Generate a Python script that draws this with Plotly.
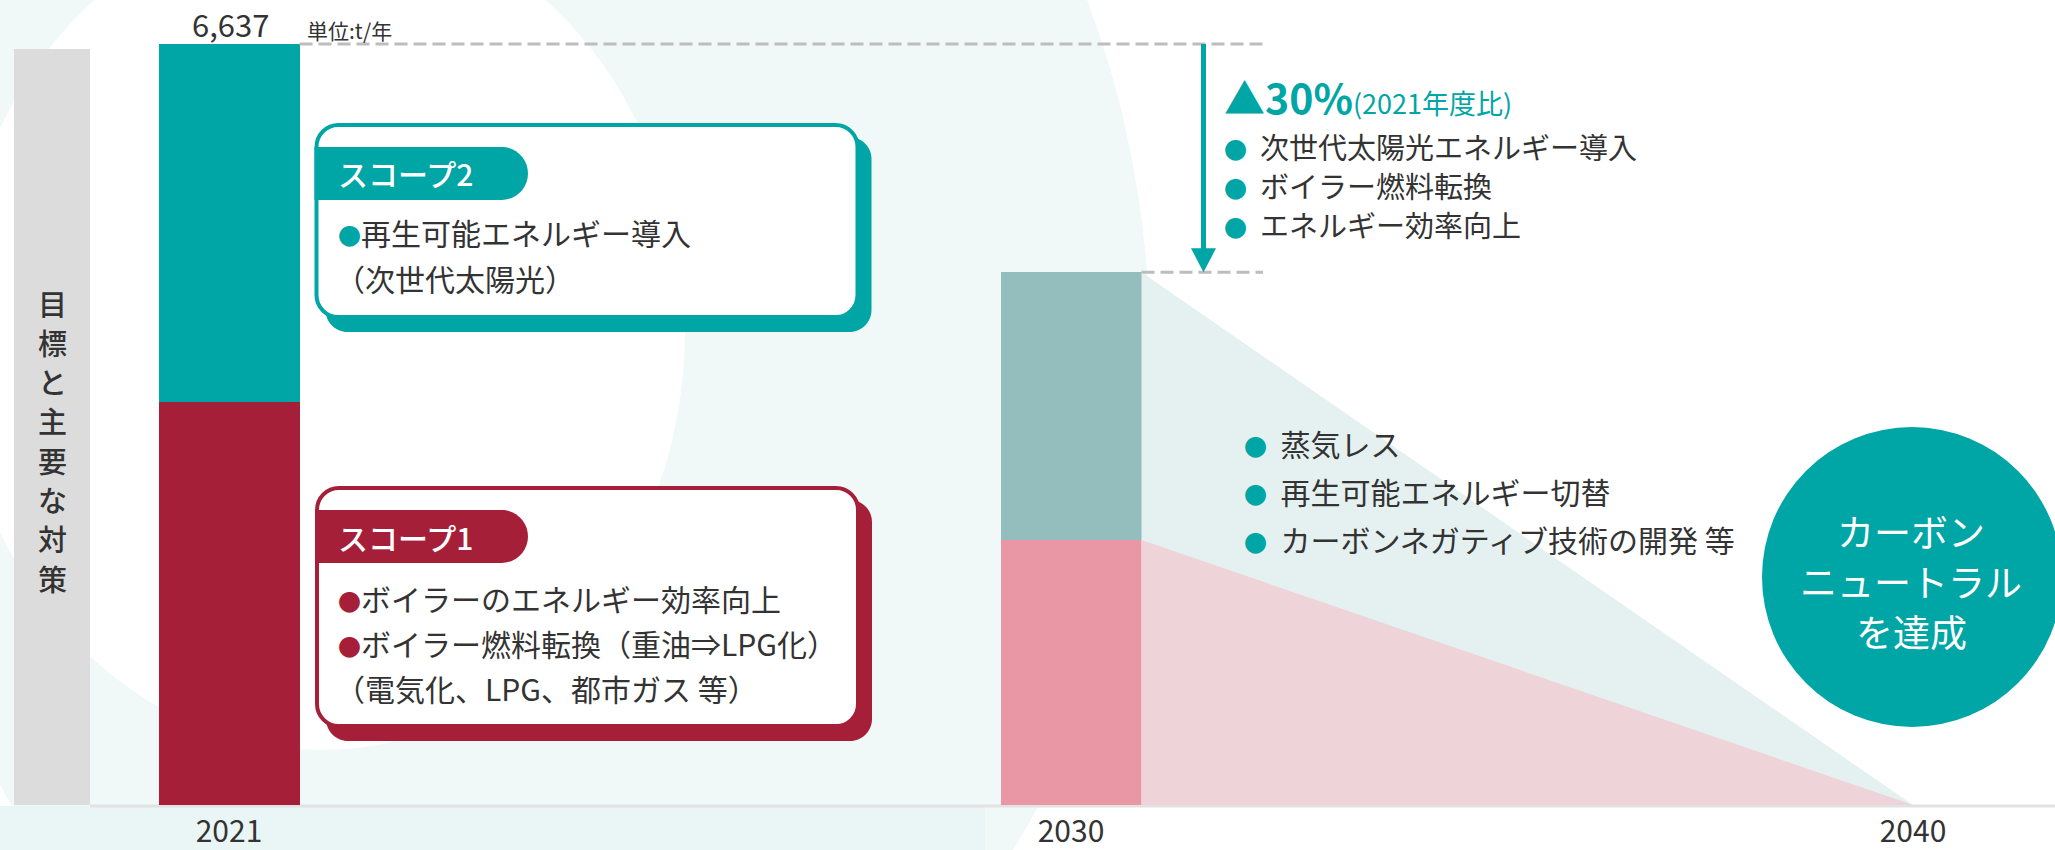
import plotly.graph_objects as go

# ---------------- data ----------------
years = ["2021", "2030", "2040"]
x_pos = [0, 1, 2]
scope1 = [3515, 2311]          # t/年 (スコープ1)
scope2 = [3122, 2335]          # t/年 (スコープ2)
total_label = "6,637"
unit_label = "単位:t/年"
side_title = "目標と主要な対策"
scope2_title = "スコープ2"
scope2_items = ["●再生可能エネルギー導入", "（次世代太陽光）"]
scope1_title = "スコープ1"
scope1_items = ["●ボイラーのエネルギー効率向上", "●ボイラー燃料転換（重油⇒LPG化）", "（電気化、LPG、都市ガス 等）"]
reduction_main = "▲30%"
reduction_sub = "(2021年度比)"
list_2030 = ["次世代太陽光エネルギー導入", "ボイラー燃料転換", "エネルギー効率向上"]
list_2040 = ["蒸気レス", "再生可能エネルギー切替", "カーボンネガティブ技術の開発 等"]
goal_text = ["カーボン", "ニュートラル", "を達成"]

# ---------------- style ----------------
TEAL = "#00A5A5"
CRIMSON = "#A61F38"
TEAL_SOFT = "#94BEBD"
PINK_SOFT = "#EA97A5"
TEAL_TRI = "#E5F0F0"
PINK_TRI = "#EED3D8"
TXT = "#333333"
FONT = "Noto Sans CJK JP"

W, H = 2055, 850
BASE = 805            # pixel row of the x axis
TOP_PX = 44           # pixel row of the 2021 total
totals = [a + b for a, b in zip(scope1, scope2)]
Y1 = totals[0] * BASE / (BASE - TOP_PX)
K = 842.0             # pixels per category step
X0 = -229.0 / K
X1 = X0 + W / K
BW = 141.0 / K
NB = "\u00a0"


def PX(x):
    return x / W


def PY(y):
    return (BASE - y) / BASE


def xpix(x):
    return (x - X0) * K


def ypix(v):
    return BASE - v * BASE / Y1


def pt(x, y):
    return f"{PX(x):.5f},{PY(y):.5f}"


def rrect(x0, y0, x1, y1, r):
    k = 0.5523 * r
    return (f"M{pt(x0 + r, y0)} L{pt(x1 - r, y0)} "
            f"C{pt(x1 - r + k, y0)} {pt(x1, y0 + r - k)} {pt(x1, y0 + r)} "
            f"L{pt(x1, y1 - r)} "
            f"C{pt(x1, y1 - r + k)} {pt(x1 - r + k, y1)} {pt(x1 - r, y1)} "
            f"L{pt(x0 + r, y1)} "
            f"C{pt(x0 + r - k, y1)} {pt(x0, y1 - r + k)} {pt(x0, y1 - r)} "
            f"L{pt(x0, y0 + r)} "
            f"C{pt(x0, y0 + r - k)} {pt(x0 + r - k, y0)} {pt(x0 + r, y0)} Z")


def tab(x0, y0, x1, y1):
    r = (y1 - y0) / 2
    k = 0.5523 * r
    ym = (y0 + y1) / 2
    return (f"M{pt(x0, y0)} L{pt(x1 - r, y0)} "
            f"C{pt(x1 - r + k, y0)} {pt(x1, ym - k)} {pt(x1, ym)} "
            f"C{pt(x1, ym + k)} {pt(x1 - r + k, y1)} {pt(x1 - r, y1)} "
            f"L{pt(x0, y1)} Z")


def bullet(color, size=23):
    return f"<span style='color:{color};font-size:{size}px'>●</span>"


fig = go.Figure()

# projection wedges toward 2040
edge = x_pos[1] + BW / 2
fig.add_trace(go.Scatter(x=[edge, x_pos[2], edge], y=[totals[1], 0, 0], fill="toself",
                         fillcolor=TEAL_TRI, mode="lines", line=dict(width=0),
                         hoverinfo="skip", showlegend=False))
fig.add_trace(go.Scatter(x=[edge, x_pos[2], edge], y=[scope1[1], 0, 0], fill="toself",
                         fillcolor=PINK_TRI, mode="lines", line=dict(width=0),
                         hoverinfo="skip", showlegend=False))

# stacked bars
fig.add_trace(go.Bar(x=x_pos[:2], y=scope1, width=BW, marker=dict(color=[CRIMSON, PINK_SOFT], line=dict(width=0)),
                     hoverinfo="skip", showlegend=False))
fig.add_trace(go.Bar(x=x_pos[:2], y=scope2, width=BW, marker=dict(color=[TEAL, TEAL_SOFT], line=dict(width=0)),
                     hoverinfo="skip", showlegend=False))

shapes = []
# background decoration
shapes.append(dict(type="circle", xref="paper", yref="paper", layer="below",
                   x0=PX(-100), x1=PX(1150), y0=PY(1150), y1=PY(-450),
                   fillcolor="#F0F8F8", line=dict(width=0)))
shapes.append(dict(type="circle", xref="paper", yref="paper", layer="below",
                   x0=PX(-45), x1=PX(685), y0=PY(750), y1=PY(-90),
                   fillcolor="#FFFFFF", line=dict(width=0)))
shapes.append(dict(type="rect", xref="paper", yref="paper", layer="below",
                   x0=0, x1=PX(985), y0=PY(850), y1=PY(806),
                   fillcolor="#EAF5F5", line=dict(width=0)))
# side title panel
shapes.append(dict(type="rect", xref="paper", yref="paper", layer="below",
                   x0=PX(14), x1=PX(90), y0=PY(805), y1=PY(49),
                   fillcolor="#DCDCDC", line=dict(width=0)))
# x axis line
shapes.append(dict(type="line", xref="paper", yref="paper", layer="below",
                   x0=PX(90), x1=1, y0=PY(806), y1=PY(806),
                   line=dict(color="#E2E2E2", width=3)))

# dashed reference lines
x_dash_end = X0 + 1263 / K
shapes.append(dict(type="line", xref="x", yref="y", x0=x_pos[0] + BW / 2, x1=x_dash_end,
                   y0=totals[0], y1=totals[0], line=dict(color="#BDBDBD", width=3, dash="13px,6px")))
shapes.append(dict(type="line", xref="x", yref="y", x0=x_pos[1] + BW / 2, x1=x_dash_end,
                   y0=totals[1], y1=totals[1], line=dict(color="#BDBDBD", width=3, dash="13px,6px")))

# reduction arrow
ax_px = 1203.5
tip = ypix(totals[1])
shapes.append(dict(type="line", xref="paper", yref="paper", x0=PX(ax_px), x1=PX(ax_px),
                   y0=PY(ypix(totals[0])), y1=PY(tip - 20), line=dict(color=TEAL, width=5)))
shapes.append(dict(type="path", xref="paper", yref="paper",
                   path=f"M{pt(ax_px - 12.5, tip - 24)} L{pt(ax_px + 12.5, tip - 24)} L{pt(ax_px, tip)} Z",
                   fillcolor=TEAL, line=dict(width=0)))

# scope boxes
for color, (bx0, by0, bx1, by1), (ty0, ty1) in [
        (TEAL, (316.5, 125, 857.5, 317), (147, 200)),
        (CRIMSON, (317, 488, 858, 726), (510, 563))]:
    shapes.append(dict(type="path", xref="paper", yref="paper",
                       path=rrect(bx0 + 9, by0 + 12, bx1 + 14, by1 + 15, 22),
                       fillcolor=color, line=dict(width=0)))
    shapes.append(dict(type="path", xref="paper", yref="paper",
                       path=rrect(bx0, by0, bx1, by1, 22),
                       fillcolor="#FFFFFF", line=dict(color=color, width=4)))
    shapes.append(dict(type="path", xref="paper", yref="paper",
                       path=tab(bx0 - 2, ty0, 528, ty1),
                       fillcolor=color, line=dict(width=0)))

# goal circle
shapes.append(dict(type="circle", xref="paper", yref="paper",
                   x0=PX(1762), x1=PX(2062), y0=PY(727), y1=PY(427),
                   fillcolor=TEAL, line=dict(width=0)))

ann = []


def text(x, y, s, size, color=TXT, xanchor="left", yanchor="middle", weight=None):
    f = dict(family=FONT, size=size, color=color)
    if weight:
        f["weight"] = weight
    ann.append(dict(xref="paper", yref="paper", x=PX(x), y=PY(y), text=s, showarrow=False,
                    xanchor=xanchor, yanchor=yanchor, font=f))


# total value and unit
text(230, 23, total_label, 31, xanchor="center")
text(305, 30, unit_label, 21)

# vertical side title (one glyph per row)
for i, ch in enumerate(side_title):
    text(52, 302.5 + 39.3 * i, ch, 29, xanchor="center", weight=500)

# scope 2 box texts
text(336, 173, scope2_title, 30, color="#FFFFFF", weight=500)
text(336, 232, scope2_items[0].replace("●", bullet(TEAL)), 30)
text(333, 278, scope2_items[1], 30)

# scope 1 box texts
text(336, 537, scope1_title, 30, color="#FFFFFF", weight=500)
text(336, 598, scope1_items[0].replace("●", bullet(CRIMSON)), 30)
text(336, 643, scope1_items[1].replace("●", bullet(CRIMSON)), 30)
text(333, 688, scope1_items[2], 30)

# 2030 reduction notes
text(1222, 96, f"<b>{reduction_main}</b><span style='font-size:27px'>{reduction_sub}</span>",
     41, color=TEAL)
for i, s in enumerate(list_2030):
    text(1222, 146 + 39 * i, f"{bullet(TEAL)}{NB}{NB}{s}", 29)

# 2040 notes
for i, s in enumerate(list_2040):
    text(1242, 443 + 48 * i, f"{bullet(TEAL)}{NB}{NB}{s}", 30)

# goal text (one annotation per row)
for i, s in enumerate(goal_text):
    text(1911, 531 + 50 * i, s, 37, color="#FFFFFF", xanchor="center")

fig.update_layout(
    width=W, height=H,
    margin=dict(l=0, r=0, t=0, b=H - BASE),
    paper_bgcolor="#FFFFFF", plot_bgcolor="rgba(0,0,0,0)",
    barmode="stack", bargap=0,
    showlegend=False,
    shapes=shapes, annotations=ann,
    font=dict(family=FONT, color=TXT),
    xaxis=dict(range=[X0, X1], tickvals=x_pos, ticktext=years, showgrid=False, zeroline=False,
               showline=False, ticks="", tickfont=dict(family=FONT, size=30, color=TXT),
               ticklabelstandoff=6, fixedrange=True),
    yaxis=dict(range=[0, Y1], showgrid=False, zeroline=False, showline=False,
               showticklabels=False, ticks="", fixedrange=True),
)

fig.write_html("out.html", config={"displayModeBar": False},
               post_script="document.body.style.margin='0';document.body.style.overflow='hidden';")
